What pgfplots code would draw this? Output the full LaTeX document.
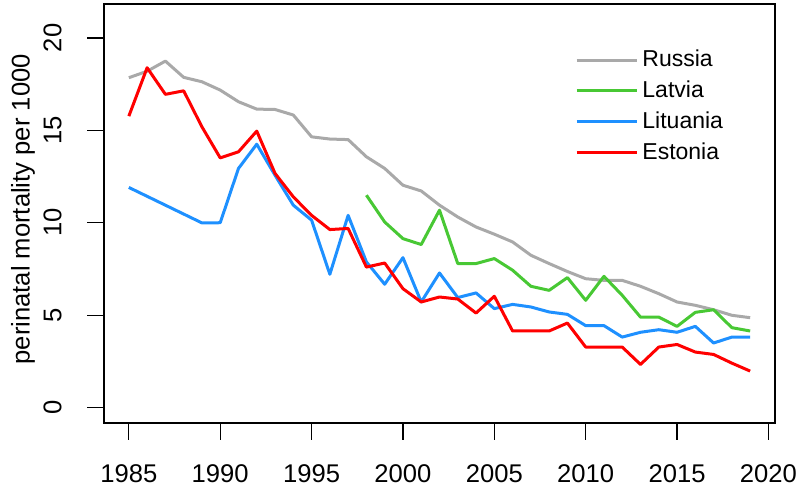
\documentclass[border=0pt]{standalone}
\usepackage{fontspec}
\setmainfont{Liberation Sans}
\usepackage{pgfplots}
\pgfplotsset{compat=1.18}
\definecolor{rgray}{RGB}{169,169,169}
\definecolor{rgreen}{RGB}{72,200,52}
\definecolor{rblue}{RGB}{30,144,255}
\definecolor{rred}{RGB}{255,0,0}
\begin{document}
\begin{tikzpicture}
\begin{axis}[
  scale only axis, width=335.5pt, height=209.5pt,
  xmin=1983.64, xmax=2020.36, ymin=-0.84, ymax=21.84,
  xtick={1985,1990,...,2020}, ytick={0,5,10,15,20},
  xtick pos=lower, ytick pos=left,
  tick align=outside, major tick length=8.5pt,
  tick style={black, line width=0.6pt},
  axis line style={line width=0.6pt},
  /pgf/number format/assume math mode=true,
  /pgf/number format/1000 sep={},
  font=\fontsize{12.8}{15}\selectfont,
  xticklabel style={anchor=north, inner sep=0pt, yshift=-12pt},
  yticklabel style={xshift=-12.5pt, rotate=90, anchor=south, inner sep=0pt},
  ylabel={perinatal mortality per 1000},
  ylabel style={at={(axis description cs:-0.1207,0.51)}, rotate=0, anchor=center, inner sep=0pt},
  legend style={draw=none, fill=none, at={(axis description cs:0.702,0.90)}, anchor=north west,
    row sep=1.6pt, inner sep=0pt, font=\fontsize{11.5}{13.5}\selectfont},
  legend cell align=left,
  legend image code/.code={\draw[#1] (0pt,0pt) -- (21.5pt,0pt); \path (0pt,0pt) -- (30pt,0pt);},
  every axis plot/.append style={line width=1.5pt, line join=round},
]
\addplot[rgray] coordinates {
(1985,17.85)(1986,18.2)(1987,18.75)(1988,17.87)(1989,17.63)(1990,17.18)(1991,16.55)(1992,16.15)(1993,16.13)(1994,15.83)(1995,14.65)(1996,14.53)(1997,14.5)(1998,13.57)(1999,12.94)(2000,12.03)(2001,11.72)(2002,10.95)(2003,10.31)(2004,9.77)(2005,9.38)(2006,8.96)(2007,8.24)(2008,7.79)(2009,7.36)(2010,6.97)(2011,6.88)(2012,6.88)(2013,6.56)(2014,6.16)(2015,5.71)(2016,5.53)(2017,5.29)(2018,4.99)(2019,4.86)};
\addlegendentry{Russia}
\addplot[rgreen] coordinates {
(1998,11.49)(1999,10.04)(2000,9.14)(2001,8.82)(2002,10.68)(2003,7.79)(2004,7.79)(2005,8.06)(2006,7.43)(2007,6.56)(2008,6.34)(2009,7.03)(2010,5.8)(2011,7.1)(2012,6.07)(2013,4.89)(2014,4.89)(2015,4.39)(2016,5.15)(2017,5.29)(2018,4.32)(2019,4.14)};
\addlegendentry{Latvia}
\addplot[rblue] coordinates {
(1985,11.91)(1989,9.99)(1990,10.0)(1991,12.94)(1992,14.25)(1993,12.57)(1994,10.95)(1995,10.14)(1996,7.21)(1997,10.4)(1998,7.88)(1999,6.67)(2000,8.11)(2001,5.71)(2002,7.28)(2003,5.95)(2004,6.2)(2005,5.35)(2006,5.58)(2007,5.44)(2008,5.17)(2009,5.04)(2010,4.43)(2011,4.43)(2012,3.81)(2013,4.07)(2014,4.21)(2015,4.07)(2016,4.39)(2017,3.49)(2018,3.81)(2019,3.81)};
\addlegendentry{Lituania}
\addplot[rred] coordinates {
(1985,15.77)(1986,18.39)(1987,16.95)(1988,17.14)(1989,15.19)(1990,13.51)(1991,13.84)(1992,14.96)(1993,12.67)(1994,11.4)(1995,10.4)(1996,9.63)(1997,9.69)(1998,7.6)(1999,7.82)(2000,6.43)(2001,5.71)(2002,5.98)(2003,5.87)(2004,5.11)(2005,6.02)(2006,4.14)(2007,4.14)(2008,4.14)(2009,4.57)(2010,3.27)(2011,3.27)(2012,3.27)(2013,2.33)(2014,3.27)(2015,3.41)(2016,3.0)(2017,2.87)(2018,2.4)(2019,1.97)};
\addlegendentry{Estonia}
\end{axis}
\pgfresetboundingbox
\path[use as bounding box] ([xshift=-52pt,yshift=-32pt]current axis.south west) rectangle ++(400pt,243.5pt);
\end{tikzpicture}
\end{document}
